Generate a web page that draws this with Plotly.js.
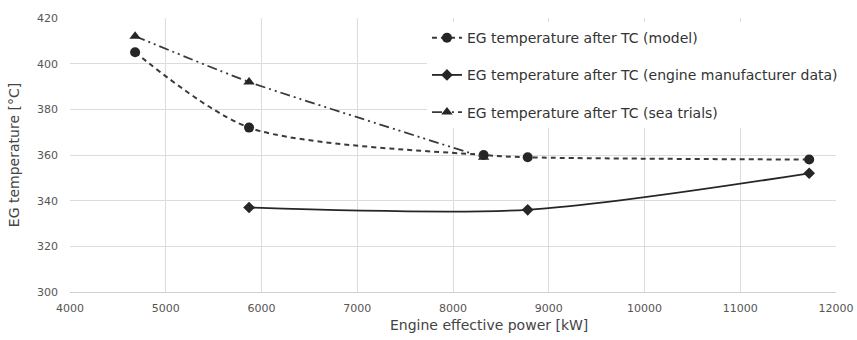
<!DOCTYPE html>
<html>
<head>
<meta charset="utf-8">
<script src="https://cdn.plot.ly/plotly-3.0.1.min.js"></script>
<style>html,body{margin:0;padding:0;background:#fff;}#chart{width:857px;height:340px;}</style>
</head>
<body>
<div id="chart"></div>
<script>
const modelX = [4680, 5870, 8320, 8780, 11720];
const modelY = [405, 372, 360, 359, 358];
const mfrX = [5870, 8780, 11720];
const mfrY = [337, 336, 352];
const seaX = [4680, 5870, 8320];
const seaY = [412, 392, 359];
const names = [
  'EG temperature after TC (model)',
  'EG temperature after TC (engine manufacturer data)',
  'EG temperature after TC (sea trials)'
];
const xTicks = [4000, 5000, 6000, 7000, 8000, 9000, 10000, 11000, 12000];
const yTicks = [300, 320, 340, 360, 380, 400, 420];
const xTitle = 'Engine effective power [kW]';
const yTitle = 'EG temperature [°C]';

const ink = '#262626';
const traces = [
  {x: modelX, y: modelY, name: names[0], legendgroup: 'a', mode: 'lines+markers',
   line: {color: '#3a3a3a', width: 2, dash: '5px,4px', shape: 'spline', smoothing: 0.8},
   marker: {symbol: 'circle', size: 10, color: ink}},
  {x: mfrX, y: mfrY, name: names[1], legendgroup: 'b', mode: 'lines+markers',
   line: {color: ink, width: 1.8, shape: 'spline', smoothing: 0.8},
   marker: {symbol: 'diamond', size: 9, color: ink}},
  {x: seaX, y: seaY, name: names[2], legendgroup: 'c', mode: 'lines+markers',
   line: {color: '#3a3a3a', width: 1.8, dash: '10px,4px,2px,4px,2px,4px', shape: 'spline', smoothing: 0.5},
   marker: {symbol: 'triangle-up', size: 10, color: ink}}
];

const F = 'DejaVu Sans, Verdana, sans-serif';
const layout = {
  width: 857, height: 340,
  margin: {l: 70, r: 21, t: 18, b: 48},
  paper_bgcolor: '#fff', plot_bgcolor: '#fff',
  font: {family: F, color: '#444', size: 11},
  showlegend: true,
  legend: {x: 0.466, xanchor: 'left', y: 0.985, yanchor: 'top', bgcolor: '#fff', itemwidth: 30,
           font: {family: F, size: 14, color: '#333'}, tracegroupgap: 16, traceorder: 'grouped'},
  xaxis: {range: [4000, 12000], tickvals: xTicks, ticktext: xTicks.map(String),
          showgrid: true, gridcolor: '#dcdcdc', gridwidth: 1, zeroline: false,
          showline: true, linecolor: '#cfcfcf', ticks: '', ticklabelstandoff: 6,
          tickfont: {family: F, size: 11, color: '#555'}},
  yaxis: {range: [300, 420], tickvals: yTicks, ticktext: yTicks.map(String),
          showgrid: true, gridcolor: '#dcdcdc', gridwidth: 1, zeroline: false,
          showline: false, ticks: '', ticklabelstandoff: 11,
          tickfont: {family: F, size: 11, color: '#555'},
          title: {text: yTitle, font: {family: F, size: 14, color: '#444'}, standoff: 14}},
  annotations: [{text: xTitle, xref: 'paper', yref: 'paper', x: 0.547, y: -0.12,
                 xanchor: 'center', yanchor: 'middle', showarrow: false,
                 font: {family: F, size: 14, color: '#444'}}]
};
Plotly.newPlot('chart', traces, layout, {displayModeBar: false, staticPlot: true});
</script>
</body>
</html>
